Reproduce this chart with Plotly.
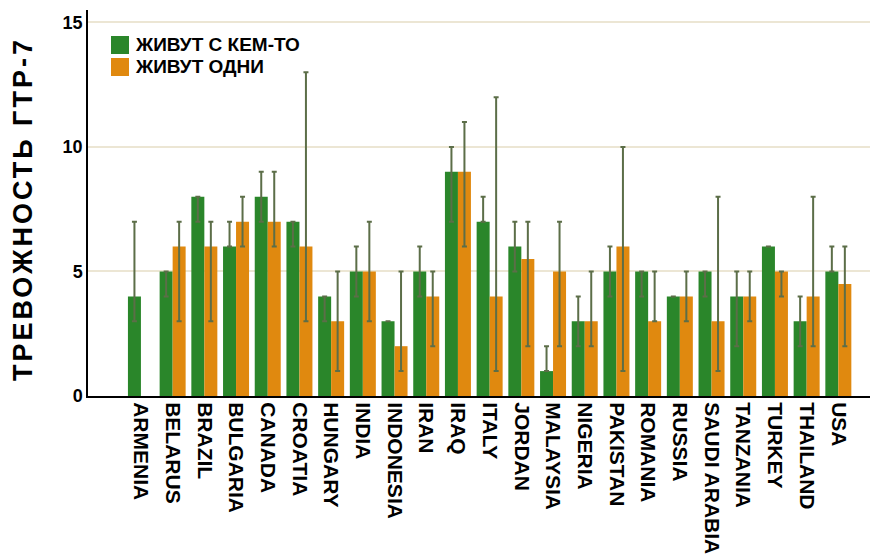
import plotly.graph_objects as go

countries = ["ARMENIA", "BELARUS", "BRAZIL", "BULGARIA", "CANADA", "CROATIA", "HUNGARY",
             "INDIA", "INDONESIA", "IRAN", "IRAQ", "ITALY", "JORDAN", "MALAYSIA", "NIGERIA",
             "PAKISTAN", "ROMANIA", "RUSSIA", "SAUDI ARABIA", "TANZANIA", "TURKEY",
             "THAILAND", "USA"]

# "Живут с кем-то" (living with someone)
with_val = [4, 5, 8, 6, 8, 7, 4, 5, 3, 5, 9, 7, 6, 1, 3, 5, 5, 4, 5, 4, 6, 3, 5]
with_lo  = [3, 4, 7, 6, 7, 6, 3, 4, 3, 4, 7, 7, 5, 1, 2, 4, 4, 4, 4, 2, 6, 2, 5]
with_hi  = [7, 5, 8, 7, 9, 7, 4, 6, 3, 6, 10, 8, 7, 2, 4, 6, 5, 4, 5, 5, 6, 4, 6]

# "Живут одни" (living alone)
alone_val = [None, 6, 6, 7, 7, 6, 3, 5, 2, 4, 9, 4, 5.5, 5, 3, 6, 3, 4, 3, 4, 5, 4, 4.5]
alone_lo  = [None, 3, 3, 6, 6, 3, 1, 3, 1, 2, 6, 1, 2, 2, 2, 1, 3, 3, 1, 3, 4, 2, 2]
alone_hi  = [None, 7, 7, 8, 9, 13, 5, 7, 5, 5, 11, 12, 7, 7, 5, 10, 5, 5, 8, 5, 5, 8, 6]

y_ticks = [0, 5, 10, 15]

GREEN = "#2a862a"
ORANGE = "#e0890f"
ERR = "#5c6e48"
FONT = "Liberation Sans"


def plus(v, hi):
    return [None if a is None else h - a for a, h in zip(v, hi)]


def minus(v, lo):
    return [None if a is None else a - l for a, l in zip(v, lo)]


fig = go.Figure()
fig.add_trace(go.Bar(
    x=countries, y=with_val, name="ЖИВУТ С КЕМ-ТО", marker_color=GREEN,
    marker_line_width=0,
    error_y=dict(type="data", symmetric=False, array=plus(with_val, with_hi),
                 arrayminus=minus(with_val, with_lo), color=ERR, thickness=2, width=2.5)))
fig.add_trace(go.Bar(
    x=countries, y=alone_val, name="ЖИВУТ ОДНИ", marker_color=ORANGE,
    marker_line_width=0,
    error_y=dict(type="data", symmetric=False, array=plus(alone_val, alone_hi),
                 arrayminus=minus(alone_val, alone_lo), color=ERR, thickness=2, width=2.5)))

OFF = 8  # page body margin
W, H = 878, 556
L, R, T, B = 88 - OFF, 0, 10 - OFF, H - (396 - OFF)
pw, ph = W - L - R, H - T - B


def px(sx):
    return (sx - OFF - L) / pw


def py(sy):
    return (H - B - (sy - OFF)) / ph


shapes = [
    dict(type="rect", xref="paper", yref="paper", x0=px(111), x1=px(129), y0=py(54), y1=py(36),
         fillcolor=GREEN, line_width=0),
    dict(type="rect", xref="paper", yref="paper", x0=px(111), x1=px(129), y0=py(76), y1=py(58),
         fillcolor=ORANGE, line_width=0),
]
annotations = [
    dict(xref="paper", yref="paper", x=px(133), y=py(45), xanchor="left", yanchor="middle",
         text="ЖИВУТ С КЕМ-ТО", showarrow=False,
         font=dict(family=FONT, size=19, color="black", weight="bold")),
    dict(xref="paper", yref="paper", x=px(133), y=py(67), xanchor="left", yanchor="middle",
         text="ЖИВУТ ОДНИ", showarrow=False,
         font=dict(family=FONT, size=19, color="black", weight="bold")),
    dict(xref="paper", yref="paper", x=px(23), y=py(209), xanchor="center", yanchor="middle",
         text='<span style="letter-spacing:3px">ТРЕВОЖНОСТЬ ГТР-7</span>',
         showarrow=False, textangle=-90,
         font=dict(family=FONT, size=27, color="black", weight="bold")),
]

cat_px = 31.7
x_start = -1.67
x_end = x_start + pw / cat_px

fig.update_layout(
    width=W, height=H,
    margin=dict(l=L, r=R, t=T, b=B),
    paper_bgcolor="white", plot_bgcolor="white",
    barmode="group", bargap=0.18, bargroupgap=0.0,
    showlegend=False,
    shapes=shapes, annotations=annotations,
    font=dict(family=FONT, color="black"),
    xaxis=dict(range=[x_start, x_end], tickangle=90, showgrid=False, showline=True,
               linecolor="black", linewidth=2, ticks="", automargin=False,
               tickfont=dict(family=FONT, size=21, color="black", weight="bold")),
    yaxis=dict(range=[0, 15.5], tickvals=y_ticks, showgrid=True, gridcolor="#ece6d4",
               gridwidth=1.5, zeroline=False, showline=True, linecolor="black", linewidth=1.5,
               ticks="", automargin=False,
               tickfont=dict(family=FONT, size=18, color="black", weight="bold")),
)

fig.write_html("out.html")
